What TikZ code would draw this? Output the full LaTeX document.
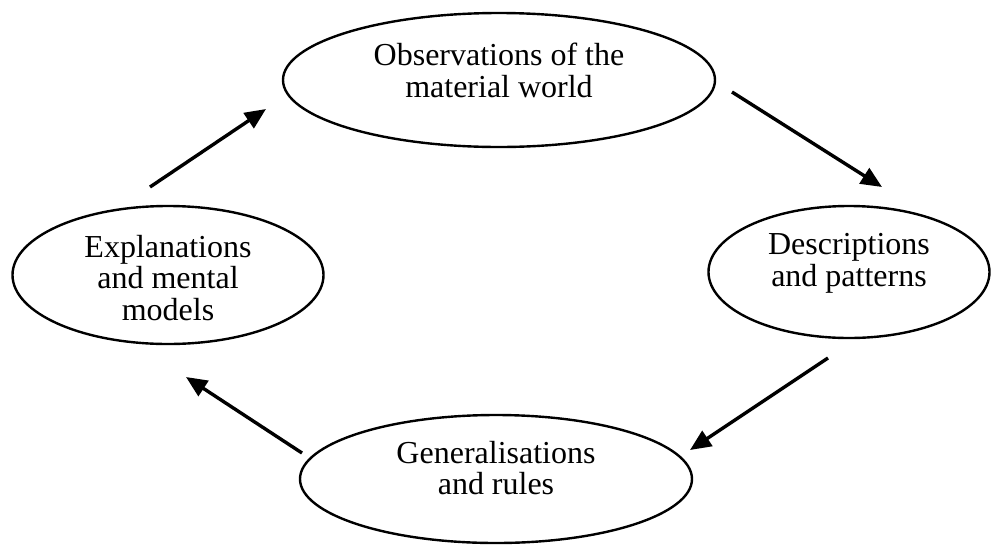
\documentclass[tikz,border=0pt]{standalone}
\usepackage{fontspec}
\setmainfont{Liberation Serif}
\usetikzlibrary{shapes.geometric,arrows.meta}
\newcommand\lowpad[1]{\rule[-#1]{0pt}{#1}}
\newcommand\highpad[1]{\rule{0pt}{#1}}
\begin{document}
\begin{tikzpicture}[x=1pt,y=-1pt,
  stage/.style={ellipse,draw=black,line width=2.4pt,inner sep=0pt,align=center,
    font=\fontsize{32}{31.5}\selectfont},
  arr/.style={line width=3.4pt,-{Triangle[length=21pt,width=18pt]}}]
\useasboundingbox[fill=white] (0,0) rectangle (991,547);
\node[stage,minimum width=432pt,minimum height=134pt] (obs) at (499,80)
  {Observations of the\\material world\lowpad{20pt}};
\node[stage,minimum width=281pt,minimum height=132pt] (desc) at (849,272)
  {Descriptions\\and patterns\lowpad{24pt}};
\node[stage,minimum width=392pt,minimum height=128pt] (gen) at (496,479)
  {Generalisations\\and rules\lowpad{22pt}};
\node[stage,minimum width=311pt,minimum height=138pt] (expl) at (168,275)
  {\highpad{28pt}Explanations\\and mental\\models};
\coordinate (a1s) at (150,187); \coordinate (a1e) at (266,109);
\coordinate (a2s) at (732,92);  \coordinate (a2e) at (882,187);
\coordinate (a3s) at (828,358); \coordinate (a3e) at (690,450);
\coordinate (a4s) at (302,453); \coordinate (a4e) at (186,377);
\draw[arr] (a1s) -- (a1e);
\draw[arr] (a2s) -- (a2e);
\draw[arr] (a3s) -- (a3e);
\draw[arr] (a4s) -- (a4e);
\end{tikzpicture}
\end{document}
